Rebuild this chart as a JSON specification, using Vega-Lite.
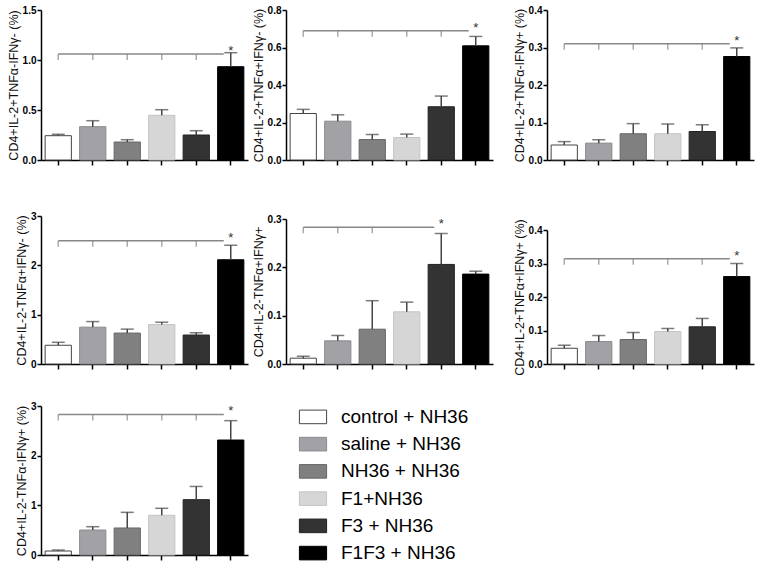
{
  "$schema": "https://vega.github.io/schema/vega-lite/v6.json",
  "description": "Intracellular cytokine profiles of CD4+ T cells by treatment group",
  "padding": {"left": 7, "top": 5, "right": 2, "bottom": 3},
  "datasets": {
    "bars": [
      {"p": 1, "g": "control + NH36", "v": 0.243, "hi": 0.257},
      {"p": 1, "g": "saline + NH36", "v": 0.333, "hi": 0.393},
      {"p": 1, "g": "NH36 + NH36", "v": 0.18, "hi": 0.203},
      {"p": 1, "g": "F1+NH36", "v": 0.447, "hi": 0.503},
      {"p": 1, "g": "F3 + NH36", "v": 0.25, "hi": 0.293},
      {"p": 1, "g": "F1F3 + NH36", "v": 0.933, "hi": 1.073},
      {"p": 2, "g": "control + NH36", "v": 0.248, "hi": 0.27},
      {"p": 2, "g": "saline + NH36", "v": 0.207, "hi": 0.241},
      {"p": 2, "g": "NH36 + NH36", "v": 0.109, "hi": 0.136},
      {"p": 2, "g": "F1+NH36", "v": 0.12, "hi": 0.138},
      {"p": 2, "g": "F3 + NH36", "v": 0.284, "hi": 0.341},
      {"p": 2, "g": "F1F3 + NH36", "v": 0.609, "hi": 0.659},
      {"p": 3, "g": "control + NH36", "v": 0.04, "hi": 0.049},
      {"p": 3, "g": "saline + NH36", "v": 0.045, "hi": 0.054},
      {"p": 3, "g": "NH36 + NH36", "v": 0.07, "hi": 0.097},
      {"p": 3, "g": "F1+NH36", "v": 0.07, "hi": 0.096},
      {"p": 3, "g": "F3 + NH36", "v": 0.076, "hi": 0.094},
      {"p": 3, "g": "F1F3 + NH36", "v": 0.276, "hi": 0.299},
      {"p": 4, "g": "control + NH36", "v": 0.38, "hi": 0.44},
      {"p": 4, "g": "saline + NH36", "v": 0.747, "hi": 0.86},
      {"p": 4, "g": "NH36 + NH36", "v": 0.627, "hi": 0.707},
      {"p": 4, "g": "F1+NH36", "v": 0.8, "hi": 0.847},
      {"p": 4, "g": "F3 + NH36", "v": 0.587, "hi": 0.633},
      {"p": 4, "g": "F1F3 + NH36", "v": 2.113, "hi": 2.407},
      {"p": 5, "g": "control + NH36", "v": 0.012, "hi": 0.016},
      {"p": 5, "g": "saline + NH36", "v": 0.048, "hi": 0.059},
      {"p": 5, "g": "NH36 + NH36", "v": 0.072, "hi": 0.131},
      {"p": 5, "g": "F1+NH36", "v": 0.108, "hi": 0.128},
      {"p": 5, "g": "F3 + NH36", "v": 0.206, "hi": 0.27},
      {"p": 5, "g": "F1F3 + NH36", "v": 0.186, "hi": 0.192},
      {"p": 6, "g": "control + NH36", "v": 0.047, "hi": 0.056},
      {"p": 6, "g": "saline + NH36", "v": 0.067, "hi": 0.085},
      {"p": 6, "g": "NH36 + NH36", "v": 0.073, "hi": 0.094},
      {"p": 6, "g": "F1+NH36", "v": 0.097, "hi": 0.106},
      {"p": 6, "g": "F3 + NH36", "v": 0.111, "hi": 0.136},
      {"p": 6, "g": "F1F3 + NH36", "v": 0.261, "hi": 0.3},
      {"p": 7, "g": "control + NH36", "v": 0.08, "hi": 0.1},
      {"p": 7, "g": "saline + NH36", "v": 0.503, "hi": 0.57},
      {"p": 7, "g": "NH36 + NH36", "v": 0.544, "hi": 0.859},
      {"p": 7, "g": "F1+NH36", "v": 0.8, "hi": 0.94},
      {"p": 7, "g": "F3 + NH36", "v": 1.114, "hi": 1.38},
      {"p": 7, "g": "F1F3 + NH36", "v": 2.315, "hi": 2.705}
    ],
    "sig": [
      {"p": 1, "a": "control + NH36", "b": "F1F3 + NH36", "y": 1.06},
      {"p": 2, "a": "control + NH36", "b": "F1F3 + NH36", "y": 0.69},
      {"p": 3, "a": "control + NH36", "b": "F1F3 + NH36", "y": 0.31},
      {"p": 4, "a": "control + NH36", "b": "F1F3 + NH36", "y": 2.5},
      {"p": 5, "a": "control + NH36", "b": "F3 + NH36", "y": 0.283},
      {"p": 6, "a": "control + NH36", "b": "F1F3 + NH36", "y": 0.314},
      {"p": 7, "a": "control + NH36", "b": "F1F3 + NH36", "y": 2.83}
    ],
    "brk": [
      {"p": 1, "g": "control + NH36"}, {"p": 1, "g": "saline + NH36"}, {"p": 1, "g": "NH36 + NH36"}, {"p": 1, "g": "F1+NH36"}, {"p": 1, "g": "F3 + NH36"},
      {"p": 2, "g": "control + NH36"}, {"p": 2, "g": "saline + NH36"}, {"p": 2, "g": "NH36 + NH36"}, {"p": 2, "g": "F1+NH36"}, {"p": 2, "g": "F3 + NH36"},
      {"p": 3, "g": "control + NH36"}, {"p": 3, "g": "saline + NH36"}, {"p": 3, "g": "NH36 + NH36"}, {"p": 3, "g": "F1+NH36"}, {"p": 3, "g": "F3 + NH36"},
      {"p": 4, "g": "control + NH36"}, {"p": 4, "g": "saline + NH36"}, {"p": 4, "g": "NH36 + NH36"}, {"p": 4, "g": "F1+NH36"}, {"p": 4, "g": "F3 + NH36"},
      {"p": 5, "g": "control + NH36"}, {"p": 5, "g": "saline + NH36"}, {"p": 5, "g": "NH36 + NH36"},
      {"p": 6, "g": "control + NH36"}, {"p": 6, "g": "saline + NH36"}, {"p": 6, "g": "NH36 + NH36"}, {"p": 6, "g": "F1+NH36"}, {"p": 6, "g": "F3 + NH36"},
      {"p": 7, "g": "control + NH36"}, {"p": 7, "g": "saline + NH36"}, {"p": 7, "g": "NH36 + NH36"}, {"p": 7, "g": "F1+NH36"}, {"p": 7, "g": "F3 + NH36"}
    ]
  },
  "vconcat": [
    {
      "vconcat": [
        {
          "hconcat": [
            {
              "hconcat": [
                {
                  "width": 207, "height": 150,
                  "layer": [
                    {"data": {"name": "bars"}, "transform": [{"filter": "datum.p == 1"}], "mark": {"type": "bar", "strokeWidth": 1},
                     "encoding": {
                       "x": {"field": "g", "type": "nominal", "title": null, "scale": {"domain": ["control + NH36", "saline + NH36", "NH36 + NH36", "F1+NH36", "F3 + NH36", "F1F3 + NH36"], "paddingInner": 0.24, "paddingOuter": 0.12}, "axis": {"labels": false}},
                       "y": {"field": "v", "type": "quantitative", "scale": {"domain": [0, 1.5], "nice": false}, "axis": {"title": "CD4+IL-2+TNFα-IFNγ- (%)", "values": [0, 0.5, 1, 1.5], "tickCount": 10, "format": ".1f"}},
                       "fill": {"field": "g", "type": "nominal", "legend": null, "scale": {"domain": ["control + NH36", "saline + NH36", "NH36 + NH36", "F1+NH36", "F3 + NH36", "F1F3 + NH36"], "range": ["#ffffff", "#a2a2a6", "#808080", "#d6d6d6", "#333333", "#000000"]}},
                       "stroke": {"field": "g", "type": "nominal", "legend": null, "scale": {"domain": ["control + NH36", "saline + NH36", "NH36 + NH36", "F1+NH36", "F3 + NH36", "F1F3 + NH36"], "range": ["#444444", "#8a8a8e", "#666666", "#c4c4c4", "#222222", "#000000"]}}
                     }},
                    {"data": {"name": "bars"}, "transform": [{"filter": "datum.p == 1"}], "mark": {"type": "rule", "color": "#444", "strokeWidth": 1.5},
                     "encoding": {"x": {"field": "g", "type": "nominal", "title": null}, "y": {"field": "v", "type": "quantitative"}, "y2": {"field": "hi"}}},
                    {"data": {"name": "bars"}, "transform": [{"filter": "datum.p == 1"}], "mark": {"type": "tick", "color": "#444", "size": 13, "thickness": 1.5},
                     "encoding": {"x": {"field": "g", "type": "nominal", "title": null}, "y": {"field": "hi", "type": "quantitative"}}},
                    {"data": {"name": "sig"}, "transform": [{"filter": "datum.p == 1"}], "mark": {"type": "rule", "color": "#888", "strokeWidth": 1.5, "x2Offset": -7},
                     "encoding": {"x": {"field": "a", "type": "nominal", "title": null}, "x2": {"field": "b"}, "y": {"field": "y", "type": "quantitative"}}},
                    {"data": {"name": "brk"}, "transform": [{"filter": "datum.p == 1"}, {"lookup": "p", "from": {"data": {"name": "sig"}, "key": "p", "fields": ["y"]}}], "mark": {"type": "tick", "orient": "vertical", "color": "#888", "size": 6, "thickness": 1.5, "yOffset": 3},
                     "encoding": {"x": {"field": "g", "type": "nominal", "title": null}, "y": {"field": "y", "type": "quantitative"}}},
                    {"data": {"name": "sig"}, "transform": [{"filter": "datum.p == 1"}], "mark": {"type": "text", "fontSize": 13, "color": "#333", "dy": -3},
                     "encoding": {"x": {"field": "b", "type": "nominal", "title": null}, "y": {"field": "y", "type": "quantitative"}, "text": {"value": "*"}}}
                  ]
                },
                {
                  "width": 207, "height": 150,
                  "layer": [
                    {"data": {"name": "bars"}, "transform": [{"filter": "datum.p == 2"}], "mark": {"type": "bar", "strokeWidth": 1},
                     "encoding": {
                       "x": {"field": "g", "type": "nominal", "title": null, "scale": {"domain": ["control + NH36", "saline + NH36", "NH36 + NH36", "F1+NH36", "F3 + NH36", "F1F3 + NH36"], "paddingInner": 0.24, "paddingOuter": 0.12}, "axis": {"labels": false}},
                       "y": {"field": "v", "type": "quantitative", "scale": {"domain": [0, 0.8], "nice": false}, "axis": {"title": "CD4+IL-2+TNFα+IFNγ- (%)", "values": [0, 0.2, 0.4, 0.6, 0.8], "tickCount": 10, "format": ".1f"}},
                       "fill": {"field": "g", "type": "nominal", "legend": null},
                       "stroke": {"field": "g", "type": "nominal", "legend": null}
                     }},
                    {"data": {"name": "bars"}, "transform": [{"filter": "datum.p == 2"}], "mark": {"type": "rule", "color": "#444", "strokeWidth": 1.5},
                     "encoding": {"x": {"field": "g", "type": "nominal", "title": null}, "y": {"field": "v", "type": "quantitative"}, "y2": {"field": "hi"}}},
                    {"data": {"name": "bars"}, "transform": [{"filter": "datum.p == 2"}], "mark": {"type": "tick", "color": "#444", "size": 13, "thickness": 1.5},
                     "encoding": {"x": {"field": "g", "type": "nominal", "title": null}, "y": {"field": "hi", "type": "quantitative"}}},
                    {"data": {"name": "sig"}, "transform": [{"filter": "datum.p == 2"}], "mark": {"type": "rule", "color": "#888", "strokeWidth": 1.5, "x2Offset": -7},
                     "encoding": {"x": {"field": "a", "type": "nominal", "title": null}, "x2": {"field": "b"}, "y": {"field": "y", "type": "quantitative"}}},
                    {"data": {"name": "brk"}, "transform": [{"filter": "datum.p == 2"}, {"lookup": "p", "from": {"data": {"name": "sig"}, "key": "p", "fields": ["y"]}}], "mark": {"type": "tick", "orient": "vertical", "color": "#888", "size": 6, "thickness": 1.5, "yOffset": 3},
                     "encoding": {"x": {"field": "g", "type": "nominal", "title": null}, "y": {"field": "y", "type": "quantitative"}}},
                    {"data": {"name": "sig"}, "transform": [{"filter": "datum.p == 2"}], "mark": {"type": "text", "fontSize": 13, "color": "#333", "dy": -3},
                     "encoding": {"x": {"field": "b", "type": "nominal", "title": null}, "y": {"field": "y", "type": "quantitative"}, "text": {"value": "*"}}}
                  ]
                }
              ],
              "spacing": 4
            },
            {
              "width": 207, "height": 150,
              "layer": [
                {"data": {"name": "bars"}, "transform": [{"filter": "datum.p == 3"}], "mark": {"type": "bar", "strokeWidth": 1},
                 "encoding": {
                   "x": {"field": "g", "type": "nominal", "title": null, "scale": {"domain": ["control + NH36", "saline + NH36", "NH36 + NH36", "F1+NH36", "F3 + NH36", "F1F3 + NH36"], "paddingInner": 0.24, "paddingOuter": 0.12}, "axis": {"labels": false}},
                   "y": {"field": "v", "type": "quantitative", "scale": {"domain": [0, 0.4], "nice": false}, "axis": {"title": "CD4+IL-2+TNFα-IFNγ+ (%)", "values": [0, 0.1, 0.2, 0.3, 0.4], "tickCount": 10, "format": ".1f"}},
                   "fill": {"field": "g", "type": "nominal", "legend": null},
                   "stroke": {"field": "g", "type": "nominal", "legend": null}
                 }},
                {"data": {"name": "bars"}, "transform": [{"filter": "datum.p == 3"}], "mark": {"type": "rule", "color": "#444", "strokeWidth": 1.5},
                 "encoding": {"x": {"field": "g", "type": "nominal", "title": null}, "y": {"field": "v", "type": "quantitative"}, "y2": {"field": "hi"}}},
                {"data": {"name": "bars"}, "transform": [{"filter": "datum.p == 3"}], "mark": {"type": "tick", "color": "#444", "size": 13, "thickness": 1.5},
                 "encoding": {"x": {"field": "g", "type": "nominal", "title": null}, "y": {"field": "hi", "type": "quantitative"}}},
                {"data": {"name": "sig"}, "transform": [{"filter": "datum.p == 3"}], "mark": {"type": "rule", "color": "#888", "strokeWidth": 1.5, "x2Offset": -7},
                 "encoding": {"x": {"field": "a", "type": "nominal", "title": null}, "x2": {"field": "b"}, "y": {"field": "y", "type": "quantitative"}}},
                {"data": {"name": "brk"}, "transform": [{"filter": "datum.p == 3"}, {"lookup": "p", "from": {"data": {"name": "sig"}, "key": "p", "fields": ["y"]}}], "mark": {"type": "tick", "orient": "vertical", "color": "#888", "size": 6, "thickness": 1.5, "yOffset": 3},
                 "encoding": {"x": {"field": "g", "type": "nominal", "title": null}, "y": {"field": "y", "type": "quantitative"}}},
                {"data": {"name": "sig"}, "transform": [{"filter": "datum.p == 3"}], "mark": {"type": "text", "fontSize": 13, "color": "#333", "dy": -3},
                 "encoding": {"x": {"field": "b", "type": "nominal", "title": null}, "y": {"field": "y", "type": "quantitative"}, "text": {"value": "*"}}}
              ]
            }
          ],
          "spacing": 20
        },
        {
          "hconcat": [
            {
              "hconcat": [
                {
                  "width": 207, "height": 148,
                  "layer": [
                    {"data": {"name": "bars"}, "transform": [{"filter": "datum.p == 4"}], "mark": {"type": "bar", "strokeWidth": 1},
                     "encoding": {
                       "x": {"field": "g", "type": "nominal", "title": null, "scale": {"domain": ["control + NH36", "saline + NH36", "NH36 + NH36", "F1+NH36", "F3 + NH36", "F1F3 + NH36"], "paddingInner": 0.24, "paddingOuter": 0.12}, "axis": {"labels": false}},
                       "y": {"field": "v", "type": "quantitative", "scale": {"domain": [0, 3], "nice": false}, "axis": {"title": "CD4+IL-2-TNFα+IFNγ- (%)", "values": [0, 1, 2, 3], "tickCount": 10, "format": "d"}},
                       "fill": {"field": "g", "type": "nominal", "legend": null},
                       "stroke": {"field": "g", "type": "nominal", "legend": null}
                     }},
                    {"data": {"name": "bars"}, "transform": [{"filter": "datum.p == 4"}], "mark": {"type": "rule", "color": "#444", "strokeWidth": 1.5},
                     "encoding": {"x": {"field": "g", "type": "nominal", "title": null}, "y": {"field": "v", "type": "quantitative"}, "y2": {"field": "hi"}}},
                    {"data": {"name": "bars"}, "transform": [{"filter": "datum.p == 4"}], "mark": {"type": "tick", "color": "#444", "size": 13, "thickness": 1.5},
                     "encoding": {"x": {"field": "g", "type": "nominal", "title": null}, "y": {"field": "hi", "type": "quantitative"}}},
                    {"data": {"name": "sig"}, "transform": [{"filter": "datum.p == 4"}], "mark": {"type": "rule", "color": "#888", "strokeWidth": 1.5, "x2Offset": -7},
                     "encoding": {"x": {"field": "a", "type": "nominal", "title": null}, "x2": {"field": "b"}, "y": {"field": "y", "type": "quantitative"}}},
                    {"data": {"name": "brk"}, "transform": [{"filter": "datum.p == 4"}, {"lookup": "p", "from": {"data": {"name": "sig"}, "key": "p", "fields": ["y"]}}], "mark": {"type": "tick", "orient": "vertical", "color": "#888", "size": 6, "thickness": 1.5, "yOffset": 3},
                     "encoding": {"x": {"field": "g", "type": "nominal", "title": null}, "y": {"field": "y", "type": "quantitative"}}},
                    {"data": {"name": "sig"}, "transform": [{"filter": "datum.p == 4"}], "mark": {"type": "text", "fontSize": 13, "color": "#333", "dy": -3},
                     "encoding": {"x": {"field": "b", "type": "nominal", "title": null}, "y": {"field": "y", "type": "quantitative"}, "text": {"value": "*"}}}
                  ]
                },
                {
                  "width": 207, "height": 148,
                  "layer": [
                    {"data": {"name": "bars"}, "transform": [{"filter": "datum.p == 5"}], "mark": {"type": "bar", "strokeWidth": 1},
                     "encoding": {
                       "x": {"field": "g", "type": "nominal", "title": null, "scale": {"domain": ["control + NH36", "saline + NH36", "NH36 + NH36", "F1+NH36", "F3 + NH36", "F1F3 + NH36"], "paddingInner": 0.24, "paddingOuter": 0.12}, "axis": {"labels": false}},
                       "y": {"field": "v", "type": "quantitative", "scale": {"domain": [0, 0.3], "nice": false, "range": [148, 3]}, "axis": {"title": "CD4+IL-2-TNFα+IFNγ+", "values": [0, 0.1, 0.2, 0.3], "tickCount": 10, "format": ".1f"}},
                       "fill": {"field": "g", "type": "nominal", "legend": null},
                       "stroke": {"field": "g", "type": "nominal", "legend": null}
                     }},
                    {"data": {"name": "bars"}, "transform": [{"filter": "datum.p == 5"}], "mark": {"type": "rule", "color": "#444", "strokeWidth": 1.5},
                     "encoding": {"x": {"field": "g", "type": "nominal", "title": null}, "y": {"field": "v", "type": "quantitative"}, "y2": {"field": "hi"}}},
                    {"data": {"name": "bars"}, "transform": [{"filter": "datum.p == 5"}], "mark": {"type": "tick", "color": "#444", "size": 13, "thickness": 1.5},
                     "encoding": {"x": {"field": "g", "type": "nominal", "title": null}, "y": {"field": "hi", "type": "quantitative"}}},
                    {"data": {"name": "sig"}, "transform": [{"filter": "datum.p == 5"}], "mark": {"type": "rule", "color": "#888", "strokeWidth": 1.5, "x2Offset": -7},
                     "encoding": {"x": {"field": "a", "type": "nominal", "title": null}, "x2": {"field": "b"}, "y": {"field": "y", "type": "quantitative"}}},
                    {"data": {"name": "brk"}, "transform": [{"filter": "datum.p == 5"}, {"lookup": "p", "from": {"data": {"name": "sig"}, "key": "p", "fields": ["y"]}}], "mark": {"type": "tick", "orient": "vertical", "color": "#888", "size": 6, "thickness": 1.5, "yOffset": 3},
                     "encoding": {"x": {"field": "g", "type": "nominal", "title": null}, "y": {"field": "y", "type": "quantitative"}}},
                    {"data": {"name": "sig"}, "transform": [{"filter": "datum.p == 5"}], "mark": {"type": "text", "fontSize": 13, "color": "#333", "dy": -3},
                     "encoding": {"x": {"field": "b", "type": "nominal", "title": null}, "y": {"field": "y", "type": "quantitative"}, "text": {"value": "*"}}}
                  ]
                }
              ],
              "spacing": 4
            },
            {
              "width": 207, "height": 148,
              "layer": [
                {"data": {"name": "bars"}, "transform": [{"filter": "datum.p == 6"}], "mark": {"type": "bar", "strokeWidth": 1},
                 "encoding": {
                   "x": {"field": "g", "type": "nominal", "title": null, "scale": {"domain": ["control + NH36", "saline + NH36", "NH36 + NH36", "F1+NH36", "F3 + NH36", "F1F3 + NH36"], "paddingInner": 0.24, "paddingOuter": 0.12}, "axis": {"labels": false}},
                   "y": {"field": "v", "type": "quantitative", "scale": {"domain": [0, 0.4], "nice": false, "range": [148, 14]}, "axis": {"title": "CD4+IL-2+TNFα+IFNγ+ (%)", "values": [0, 0.1, 0.2, 0.3, 0.4], "tickCount": 10, "format": ".1f"}},
                   "fill": {"field": "g", "type": "nominal", "legend": null},
                   "stroke": {"field": "g", "type": "nominal", "legend": null}
                 }},
                {"data": {"name": "bars"}, "transform": [{"filter": "datum.p == 6"}], "mark": {"type": "rule", "color": "#444", "strokeWidth": 1.5},
                 "encoding": {"x": {"field": "g", "type": "nominal", "title": null}, "y": {"field": "v", "type": "quantitative"}, "y2": {"field": "hi"}}},
                {"data": {"name": "bars"}, "transform": [{"filter": "datum.p == 6"}], "mark": {"type": "tick", "color": "#444", "size": 13, "thickness": 1.5},
                 "encoding": {"x": {"field": "g", "type": "nominal", "title": null}, "y": {"field": "hi", "type": "quantitative"}}},
                {"data": {"name": "sig"}, "transform": [{"filter": "datum.p == 6"}], "mark": {"type": "rule", "color": "#888", "strokeWidth": 1.5, "x2Offset": -7},
                 "encoding": {"x": {"field": "a", "type": "nominal", "title": null}, "x2": {"field": "b"}, "y": {"field": "y", "type": "quantitative"}}},
                {"data": {"name": "brk"}, "transform": [{"filter": "datum.p == 6"}, {"lookup": "p", "from": {"data": {"name": "sig"}, "key": "p", "fields": ["y"]}}], "mark": {"type": "tick", "orient": "vertical", "color": "#888", "size": 6, "thickness": 1.5, "yOffset": 3},
                 "encoding": {"x": {"field": "g", "type": "nominal", "title": null}, "y": {"field": "y", "type": "quantitative"}}},
                {"data": {"name": "sig"}, "transform": [{"filter": "datum.p == 6"}], "mark": {"type": "text", "fontSize": 13, "color": "#333", "dy": -3},
                 "encoding": {"x": {"field": "b", "type": "nominal", "title": null}, "y": {"field": "y", "type": "quantitative"}, "text": {"value": "*"}}}
              ]
            }
          ],
          "spacing": 20
        }
      ],
      "spacing": 45
    },
    {
      "hconcat": [
        {
          "width": 207, "height": 149,
          "layer": [
            {"data": {"name": "bars"}, "transform": [{"filter": "datum.p == 7"}], "mark": {"type": "bar", "strokeWidth": 1},
             "encoding": {
               "x": {"field": "g", "type": "nominal", "title": null, "scale": {"domain": ["control + NH36", "saline + NH36", "NH36 + NH36", "F1+NH36", "F3 + NH36", "F1F3 + NH36"], "paddingInner": 0.24, "paddingOuter": 0.12}, "axis": {"labels": false}},
               "y": {"field": "v", "type": "quantitative", "scale": {"domain": [0, 3], "nice": false}, "axis": {"title": "CD4+IL-2-TNFα-IFNγ+ (%)", "values": [0, 1, 2, 3], "tickCount": 10, "format": "d"}},
               "fill": {"field": "g", "type": "nominal", "legend": null},
               "stroke": {"field": "g", "type": "nominal", "legend": null}
             }},
            {"data": {"name": "bars"}, "transform": [{"filter": "datum.p == 7"}], "mark": {"type": "rule", "color": "#444", "strokeWidth": 1.5},
             "encoding": {"x": {"field": "g", "type": "nominal", "title": null}, "y": {"field": "v", "type": "quantitative"}, "y2": {"field": "hi"}}},
            {"data": {"name": "bars"}, "transform": [{"filter": "datum.p == 7"}], "mark": {"type": "tick", "color": "#444", "size": 13, "thickness": 1.5},
             "encoding": {"x": {"field": "g", "type": "nominal", "title": null}, "y": {"field": "hi", "type": "quantitative"}}},
            {"data": {"name": "sig"}, "transform": [{"filter": "datum.p == 7"}], "mark": {"type": "rule", "color": "#888", "strokeWidth": 1.5, "x2Offset": -7},
             "encoding": {"x": {"field": "a", "type": "nominal", "title": null}, "x2": {"field": "b"}, "y": {"field": "y", "type": "quantitative"}}},
            {"data": {"name": "brk"}, "transform": [{"filter": "datum.p == 7"}, {"lookup": "p", "from": {"data": {"name": "sig"}, "key": "p", "fields": ["y"]}}], "mark": {"type": "tick", "orient": "vertical", "color": "#888", "size": 6, "thickness": 1.5, "yOffset": 3},
             "encoding": {"x": {"field": "g", "type": "nominal", "title": null}, "y": {"field": "y", "type": "quantitative"}}},
            {"data": {"name": "sig"}, "transform": [{"filter": "datum.p == 7"}], "mark": {"type": "text", "fontSize": 13, "color": "#333", "dy": -3},
             "encoding": {"x": {"field": "b", "type": "nominal", "title": null}, "y": {"field": "y", "type": "quantitative"}, "text": {"value": "*"}}}
          ]
        },
        {
          "width": 28, "height": 158,
          "data": {"name": "bars"},
          "transform": [{"filter": "datum.p == 1"}],
          "encoding": {
            "y": {"field": "g", "type": "nominal", "axis": null, "scale": {"domain": ["control + NH36", "saline + NH36", "NH36 + NH36", "F1+NH36", "F3 + NH36", "F1F3 + NH36"], "padding": 0.4}}
          },
          "layer": [
            {"mark": {"type": "point", "shape": "M-1,-0.5H1V0.5H-1Z", "size": 740, "filled": true, "opacity": 1, "strokeWidth": 1},
             "encoding": {"fill": {"field": "g", "type": "nominal", "legend": null}, "stroke": {"field": "g", "type": "nominal", "legend": null}}},
            {"mark": {"type": "text", "align": "left", "baseline": "middle", "dx": 28, "fontSize": 19, "color": "#000"},
             "encoding": {"text": {"field": "g"}}}
          ]
        }
      ],
      "spacing": 49
    }
  ],
  "spacing": 25,
  "config": {
    "font": "Liberation Sans",
    "background": "white",
    "view": {"stroke": null},
    "axis": {"grid": false, "domainColor": "#000", "domainWidth": 1.5, "tickColor": "#000", "tickWidth": 1.5},
    "axisX": {"tickSize": 5, "labels": false},
    "axisY": {"tickSize": 4, "labelFontSize": 10, "labelFontWeight": "bold", "labelColor": "#000", "labelPadding": 1, "labelOverlap": false, "titleFontSize": 12.5, "titleFontWeight": "normal", "titleColor": "#111", "titlePadding": 2}
  }
}
